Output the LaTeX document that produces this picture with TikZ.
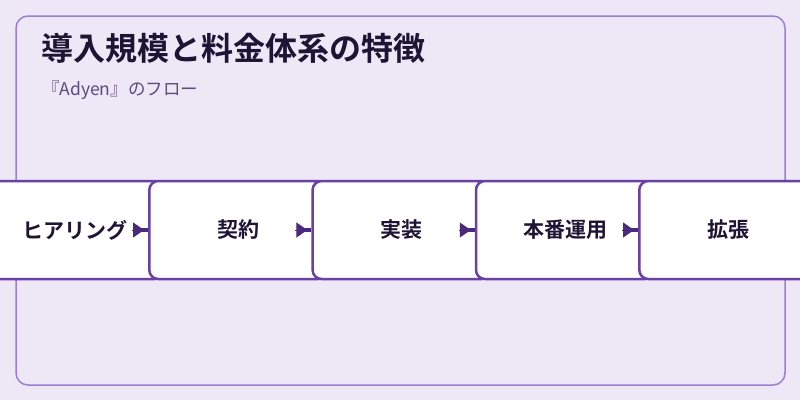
\documentclass[tikz,border=0pt]{standalone}
\usepackage{fontspec}
\setmainfont{Noto Sans CJK JP}[BoldFont={Noto Sans CJK JP Bold}]
\usetikzlibrary{arrows.meta}
\definecolor{bgc}{HTML}{EDE7F6}
\definecolor{framec}{HTML}{9C7FD0}
\definecolor{boxc}{HTML}{6A3FA6}
\definecolor{arrc}{HTML}{4A2A7A}
\definecolor{txtc}{HTML}{1E1433}
\definecolor{subc}{HTML}{5E4B7D}
\tikzset{
  stepbox/.style={draw=boxc, line width=2.5pt, fill=white, rounded corners=9pt,
    minimum width=178pt, minimum height=98pt, inner sep=0pt,
    font=\bfseries\fontsize{21}{24}\selectfont, text=txtc},
  flowline/.style={draw=arrc, line width=3.5pt},
  flow/.style={draw=arrc, line width=1pt, -{Triangle[length=11pt,width=15pt]}, arrc, shorten >=4pt},
}
\begin{document}
\begin{tikzpicture}[x=1pt,y=-1pt]
\useasboundingbox[fill=bgc] (0,0) rectangle (800,400);
\draw[framec, line width=1.5pt, rounded corners=12pt] (16,16) rectangle (785,385);
\node[anchor=base west, font=\bfseries\fontsize{32}{36}\selectfont, text=txtc, inner sep=0pt] (title) at (41,60) {導入規模と料金体系の特徴};
\node[anchor=base west, font=\fontsize{17.5}{20}\selectfont, text=subc, inner sep=0pt] (sub) at (42,95) {『Adyen』のフロー};
\node[stepbox] (s1) at (75,230) {ヒアリング};
\node[stepbox] (s2) at (238.3,230) {契約};
\node[stepbox] (s3) at (401.6,230) {実装};
\node[stepbox] (s4) at (565,230) {本番運用};
\node[stepbox] (s5) at (728.3,230) {拡張};
\foreach \b in {s2,s3,s4,s5}{
  \coordinate (c\b) at ([xshift=-16pt]\b.west);
  \draw[flowline] ([xshift=-8pt]\b.west) -- (\b.west);
  \draw[flow] (c\b) -- (\b.west);
}
\end{tikzpicture}
\end{document}
